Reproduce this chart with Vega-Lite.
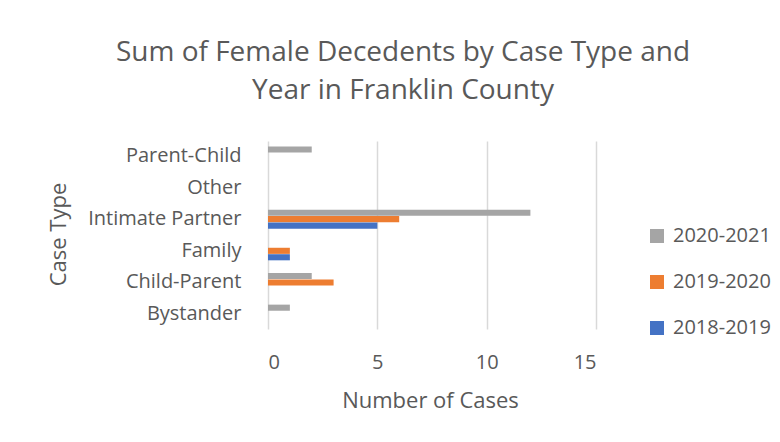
{
  "$schema": "https://vega.github.io/schema/vega-lite/v6.json",
  "autosize": {"type": "none"},
  "width": 328,
  "height": 188,
  "padding": {"left": 268, "top": 141, "right": 184, "bottom": 113},
  "background": "white",
  "title": {
    "text": ["Sum of Female Decedents by Case Type and", "Year in Franklin County"],
    "anchor": "middle",
    "frame": "group",
    "dx": -29,
    "offset": 36,
    "fontSize": 28,
    "lineHeight": 38,
    "font": "Open Sans",
    "fontWeight": "normal",
    "color": "#595959"
  },
  "data": {
    "values": [
      {"case": "Parent-Child", "year": "2020-2021", "count": 2},
      {"case": "Intimate Partner", "year": "2020-2021", "count": 12},
      {"case": "Intimate Partner", "year": "2019-2020", "count": 6},
      {"case": "Intimate Partner", "year": "2018-2019", "count": 5},
      {"case": "Family", "year": "2019-2020", "count": 1},
      {"case": "Family", "year": "2018-2019", "count": 1},
      {"case": "Child-Parent", "year": "2020-2021", "count": 2},
      {"case": "Child-Parent", "year": "2019-2020", "count": 3},
      {"case": "Bystander", "year": "2020-2021", "count": 1}
    ]
  },
  "mark": {"type": "bar"},
  "encoding": {
    "y": {
      "field": "case",
      "type": "nominal",
      "scale": {
        "domain": ["Parent-Child", "Other", "Intimate Partner", "Family", "Child-Parent", "Bystander"],
        "paddingInner": 0.4,
        "paddingOuter": 0.17
      },
      "axis": {
        "title": "Case Type",
        "titleFont": "Open Sans",
        "titleFontSize": 22,
        "titleFontWeight": "normal",
        "titleColor": "#595959",
        "titleAngle": -90,
        "titleAlign": "center",
        "titleBaseline": "middle",
        "titleX": -210,
        "titleY": 93,
        "labelFont": "Open Sans",
        "labelFontSize": 20,
        "labelColor": "#595959",
        "labelPadding": 27,
        "ticks": false,
        "tickSize": 0,
        "domain": false,
        "grid": false
      }
    },
    "yOffset": {
      "field": "year",
      "type": "nominal",
      "scale": {"domain": ["2020-2021", "2019-2020", "2018-2019"], "paddingInner": 0.05}
    },
    "x": {
      "field": "count",
      "type": "quantitative",
      "scale": {"domain": [0, 15]},
      "axis": {
        "title": "Number of Cases",
        "titleFont": "Open Sans",
        "titleFontSize": 22,
        "titleFontWeight": "normal",
        "titleColor": "#595959",
        "titleBaseline": "alphabetic",
        "titleX": 162,
        "titleY": 78,
        "values": [0, 5, 10, 15],
        "labelFont": "Open Sans",
        "labelFontSize": 20,
        "labelColor": "#595959",
        "labelPadding": 23,
        "ticks": false,
        "tickSize": 0,
        "domain": false,
        "grid": true,
        "gridColor": "#d9d9d9",
        "gridWidth": 1.5
      }
    },
    "color": {
      "field": "year",
      "type": "nominal",
      "scale": {
        "domain": ["2020-2021", "2019-2020", "2018-2019"],
        "range": ["#A5A5A5", "#ED7D31", "#4472C4"]
      },
      "legend": {
        "title": null,
        "orient": "none",
        "legendX": 379,
        "legendY": 85,
        "symbolType": "square",
        "symbolSize": 196,
        "symbolStrokeWidth": 0,
        "labelFont": "Open Sans",
        "labelFontSize": 20,
        "labelColor": "#595959",
        "labelOffset": 6,
        "rowPadding": 26
      }
    }
  },
  "config": {"view": {"stroke": null}}
}
